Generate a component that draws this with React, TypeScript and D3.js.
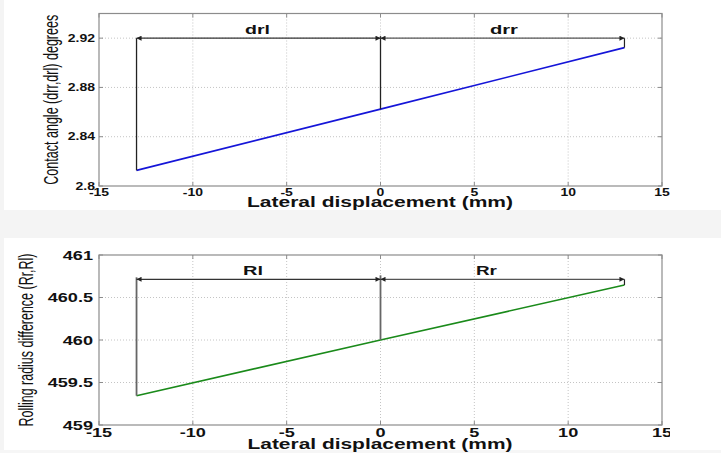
import React from "react";
import * as d3 from "d3";

// ---- data ----
const xTicks = [-15, -10, -5, 0, 5, 10, 15];
const xPoints = [-13, 0, 13];
const contactAngle = [2.8127, 2.8624, 2.9123];
const rollingRadius = [459.345, 460.0, 460.647];
const angleTicks = [2.8, 2.84, 2.88, 2.92];
const angleTickLabels = ["2.8", "2.84", "2.88", "2.92"];
const radiusTicks = [459, 459.5, 460, 460.5, 461];
const radiusTickLabels = ["459", "459.5", "460", "460.5", "461"];
const angleArrowLevel = 2.92;
const radiusArrowLevel = 460.714;
const angleLabels = ["drl", "drr"];
const radiusLabels = ["Rl", "Rr"];
const xTitle = "Lateral displacement (mm)";
const angleTitle = "Contact angle (drr,drl) degrees";
const radiusTitle = "Rolling radius difference (Rr,Rl)";

const FONT = "'Liberation Sans', Arial, Helvetica, sans-serif";

type PanelProps = {
  yDomain: [number, number];
  yRange: [number, number];
  yTicks: number[];
  yTickLabels: string[];
  values: number[];
  color: string;
  arrowLevel: number;
  labels: string[];
  labelLens: number[];
  labelDx: number[];
  title: string;
  titleX: number;
  titleLen: number;
  titleSize: number;
  tickSize: number;
  tickStretch: number;
  xTickBaseline: number;
  yTickRight: number;
  xLabelBaseline: number;
  xLabelLen: number;
  vColor: string;
  vWidth: number;
  vTopExtra: number;
  id: string;
  clipRight?: number;
};

function Panel(p: PanelProps) {
  const x = d3.scaleLinear().domain([-15, 15]).range([99, 662]);
  const y = d3.scaleLinear().domain(p.yDomain).range(p.yRange);
  const [yb, yt] = p.yRange;
  const line = d3
    .line<number>()
    .x((_, i) => x(xPoints[i]))
    .y((d) => y(d));
  const ay = y(p.arrowLevel);
  const x0 = xPoints[0];
  const xm = xPoints[1];
  const x1 = xPoints[2];
  const v0 = p.values[0];
  const vm = p.values[1];
  const v1 = p.values[2];
  const marker = `url(#arrow-${p.id})`;
  return (
    <g>
      <defs>
        <marker
          id={`arrow-${p.id}`}
          viewBox="0 0 10 10"
          refX="10"
          refY="5"
          markerWidth="7"
          markerHeight="5"
          markerUnits="userSpaceOnUse"
          orient="auto-start-reverse"
        >
          <path d="M0,0 L10,5 L0,10 z" fill="#222" />
        </marker>
        {p.clipRight !== undefined && (
          <clipPath id={`clip-${p.id}`}>
            <rect x={0} y={0} width={p.clipRight} height={453} />
          </clipPath>
        )}
      </defs>
      <rect x={x(-15)} y={yt} width={x(15) - x(-15)} height={yb - yt} fill="#fff" />
      {/* grid */}
      {xTicks.slice(1, -1).map((t) => (
        <line
          key={"gx" + t}
          x1={x(t)}
          x2={x(t)}
          y1={yt}
          y2={yb}
          stroke="#c4c4c4"
          strokeWidth={1}
          strokeDasharray="1,2"
        />
      ))}
      {p.yTicks
        .filter((t) => y(t) > yt + 1 && y(t) < yb - 1)
        .map((t) => (
          <line
            key={"gy" + t}
            x1={x(-15)}
            x2={x(15)}
            y1={y(t)}
            y2={y(t)}
            stroke="#c4c4c4"
            strokeWidth={1}
            strokeDasharray="1,2"
          />
        ))}
      {/* box */}
      <rect
        x={x(-15)}
        y={yt}
        width={x(15) - x(-15)}
        height={yb - yt}
        fill="none"
        stroke="#8c8c8c"
        strokeWidth={1.2}
      />
      {/* ticks */}
      {xTicks.map((t) => (
        <g key={"tx" + t}>
          <line x1={x(t)} x2={x(t)} y1={yb} y2={yb - 4} stroke="#8c8c8c" />
          <line x1={x(t)} x2={x(t)} y1={yt} y2={yt + 4} stroke="#8c8c8c" />
        </g>
      ))}
      {p.yTicks.map((t) => (
        <g key={"ty" + t}>
          <line x1={x(-15)} x2={x(-15) + 4} y1={y(t)} y2={y(t)} stroke="#8c8c8c" />
          <line x1={x(15)} x2={x(15) - 4} y1={y(t)} y2={y(t)} stroke="#8c8c8c" />
        </g>
      ))}
      {/* data line */}
      <path d={line(p.values) || ""} fill="none" stroke={p.color} strokeWidth={1.6} />
      {/* annotation verticals */}
      <line x1={x(x0)} x2={x(x0)} y1={y(v0)} y2={ay - p.vTopExtra} stroke={p.vColor} strokeWidth={p.vWidth} />
      <line x1={x(xm)} x2={x(xm)} y1={y(vm)} y2={ay - p.vTopExtra - 2} stroke={p.vColor} strokeWidth={p.vWidth} />
      <line x1={x(x1)} x2={x(x1)} y1={ay} y2={y(v1)} stroke="#222" strokeWidth={1.2} />
      {/* arrows */}
      <line
        x1={x(x0)}
        x2={x(xm)}
        y1={ay}
        y2={ay}
        stroke="#333"
        strokeWidth={1.2}
        markerStart={marker}
        markerEnd={marker}
      />
      <line
        x1={x(xm)}
        x2={x(x1)}
        y1={ay}
        y2={ay}
        stroke="#555"
        strokeWidth={1.2}
        markerStart={marker}
        markerEnd={marker}
      />
      {/* arrow labels */}
      {p.labels.map((l, i) => {
        const cx = i === 0 ? (x(x0) + x(xm)) / 2 : (x(xm) + x(x1)) / 2;
        return (
          <text
            key={l}
            x={cx + p.labelDx[i]}
            y={ay - 4}
            textAnchor="middle"
            fontFamily={FONT}
            fontWeight="bold"
            fontSize={12}
            textLength={p.labelLens[i]}
            lengthAdjust="spacingAndGlyphs"
            fill="#111"
          >
            {l}
          </text>
        );
      })}
      {/* x tick labels */}
      <g clipPath={p.clipRight !== undefined ? `url(#clip-${p.id})` : undefined}>
        {xTicks.map((t) => (
          <text
            key={"xl" + t}
            transform={`translate(${x(t)},${p.xTickBaseline}) scale(${p.tickStretch},1)`}
            textAnchor="middle"
            fontFamily={FONT}
            fontWeight="bold"
            fontSize={p.tickSize}
            fill="#111"
          >
            {t}
          </text>
        ))}
      </g>
      {/* y tick labels */}
      {p.yTicks.map((t, i) => (
        <text
          key={"yl" + t}
          transform={`translate(${p.yTickRight},${y(t) + p.tickSize * 0.36}) scale(${p.tickStretch},1)`}
          textAnchor="end"
          fontFamily={FONT}
          fontWeight="bold"
          fontSize={p.tickSize}
          fill="#111"
        >
          {p.yTickLabels[i]}
        </text>
      ))}
      {/* x axis title */}
      <text
        x={380}
        y={p.xLabelBaseline}
        textAnchor="middle"
        fontFamily={FONT}
        fontWeight="bold"
        fontSize={14}
        textLength={p.xLabelLen}
        lengthAdjust="spacingAndGlyphs"
        fill="#111"
      >
        {xTitle}
      </text>
      {/* y axis title */}
      <text
        transform={`translate(${p.titleX},${(yt + yb) / 2}) scale(1.35,1) rotate(-90)`}
        textAnchor="middle"
        fontFamily={FONT}
        fontSize={p.titleSize}
        textLength={p.titleLen}
        lengthAdjust="spacingAndGlyphs"
        fill="#111"
      >
        {p.title}
      </text>
    </g>
  );
}

export default function App() {
  return (
    <svg
      width={721}
      height={453}
      style={{ position: "absolute", left: 0, top: 0, background: "#fff" }}
    >
      <rect x={0} y={0} width={721} height={453} fill="#fff" />
      <rect x={0} y={210} width={721} height={28} fill="#f4f4f4" />
      <rect x={0} y={0} width={4} height={453} fill="#f4f4f4" />
      <rect x={0} y={450} width={721} height={3} fill="#f6f6f6" />
      <Panel
        id="top"
        yDomain={[2.8, 2.94]}
        yRange={[186, 13.5]}
        yTicks={angleTicks}
        yTickLabels={angleTickLabels}
        values={contactAngle}
        color="#1515d8"
        arrowLevel={angleArrowLevel}
        labels={angleLabels}
        labelLens={[25, 28]}
        labelDx={[-1, 1.5]}
        title={angleTitle}
        titleX={58}
        titleLen={170}
        titleSize={15}
        tickSize={10}
        tickStretch={1.4}
        xTickBaseline={196}
        yTickRight={95}
        xLabelBaseline={206.5}
        xLabelLen={266}
        vColor="#222"
        vWidth={1.3}
        vTopExtra={0}
      />
      <Panel
        id="bot"
        yDomain={[459, 461]}
        yRange={[425, 255]}
        yTicks={radiusTicks}
        yTickLabels={radiusTickLabels}
        values={rollingRadius}
        color="#1a8a1a"
        arrowLevel={radiusArrowLevel}
        labels={radiusLabels}
        labelLens={[20, 21]}
        labelDx={[-5.5, -16]}
        title={radiusTitle}
        titleX={33}
        titleLen={173}
        titleSize={15}
        tickSize={12.5}
        tickStretch={1.45}
        xTickBaseline={437}
        yTickRight={93}
        xLabelBaseline={449}
        xLabelLen={265}
        vColor="#666"
        vWidth={1.8}
        vTopExtra={2}
        clipRight={670}
      />
    </svg>
  );
}
